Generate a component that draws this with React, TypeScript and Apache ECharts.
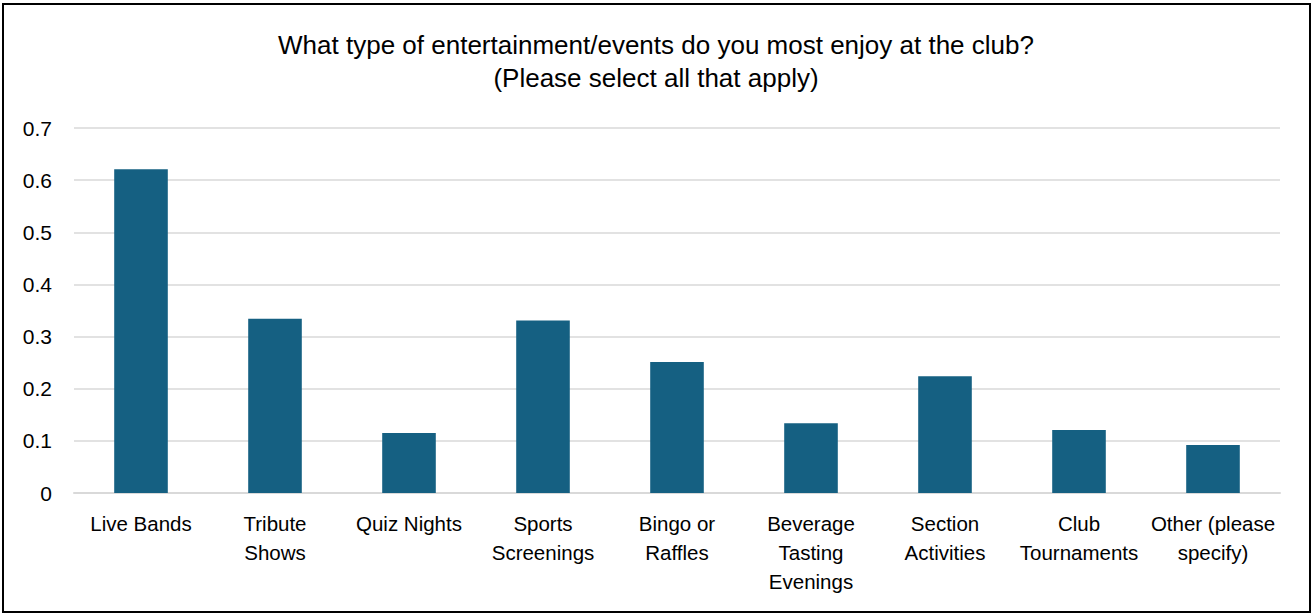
import React, { useEffect, useRef } from "react";
import * as echarts from "echarts";

const categories: string[] = [
  "Live Bands",
  "Tribute\nShows",
  "Quiz Nights",
  "Sports\nScreenings",
  "Bingo or\nRaffles",
  "Beverage\nTasting\nEvenings",
  "Section\nActivities",
  "Club\nTournaments",
  "Other (please\nspecify)",
];
const values: number[] = [0.621, 0.334, 0.115, 0.331, 0.251, 0.134, 0.224, 0.121, 0.092];
const yTicks = { min: 0, max: 0.7, interval: 0.1 };
const titleLines: string[] = [
  "What type of entertainment/events do you most enjoy at the club?",
  "(Please select all that apply)",
];

const FONT = "'Liberation Sans', Arial, sans-serif";

export default function App() {
  const ref = useRef<HTMLDivElement>(null);
  useEffect(() => {
    if (!ref.current) return;
    const chart = echarts.init(ref.current, undefined, { renderer: "svg" });
    chart.setOption({
      animation: false,
      backgroundColor: "#ffffff",
      title: {
        text: titleLines.join("\n"),
        left: "center",
        top: 23,
        textStyle: {
          fontFamily: FONT,
          fontSize: 26,
          fontWeight: "normal",
          color: "#000000",
          lineHeight: 33,
        },
      },
      grid: { left: 74, right: 32, top: 128, bottom: 120 },
      xAxis: {
        type: "category",
        data: categories,
        axisLine: { show: true, lineStyle: { color: "#d9d9d9", width: 2 } },
        axisTick: { show: false },
        axisLabel: {
          interval: 0,
          margin: 16,
          fontFamily: FONT,
          fontSize: 20.5,
          lineHeight: 29,
          color: "#000000",
        },
      },
      yAxis: {
        type: "value",
        min: yTicks.min,
        max: yTicks.max,
        interval: yTicks.interval,
        axisLine: { show: false },
        axisTick: { show: false },
        splitLine: { lineStyle: { color: "#d9d9d9", width: 1.5 } },
        axisLabel: {
          margin: 22,
          fontFamily: FONT,
          fontSize: 21,
          color: "#000000",
          formatter: (v: number) => (v === 0 ? "0" : v.toFixed(1)),
        },
      },
      series: [
        {
          type: "bar",
          data: values,
          barWidth: "40%",
          itemStyle: { color: "#156082" },
        },
      ],
      graphic: [
        {
          type: "rect",
          shape: { x: 3, y: 4, width: 1307, height: 608 },
          style: { fill: "none", stroke: "#000000", lineWidth: 2 },
          silent: true,
          z: 100,
        },
      ],
    });
    return () => chart.dispose();
  }, []);
  return (
    <div
      ref={ref}
      style={{ position: "fixed", left: 0, top: 0, width: 1312, height: 613 }}
    />
  );
}
